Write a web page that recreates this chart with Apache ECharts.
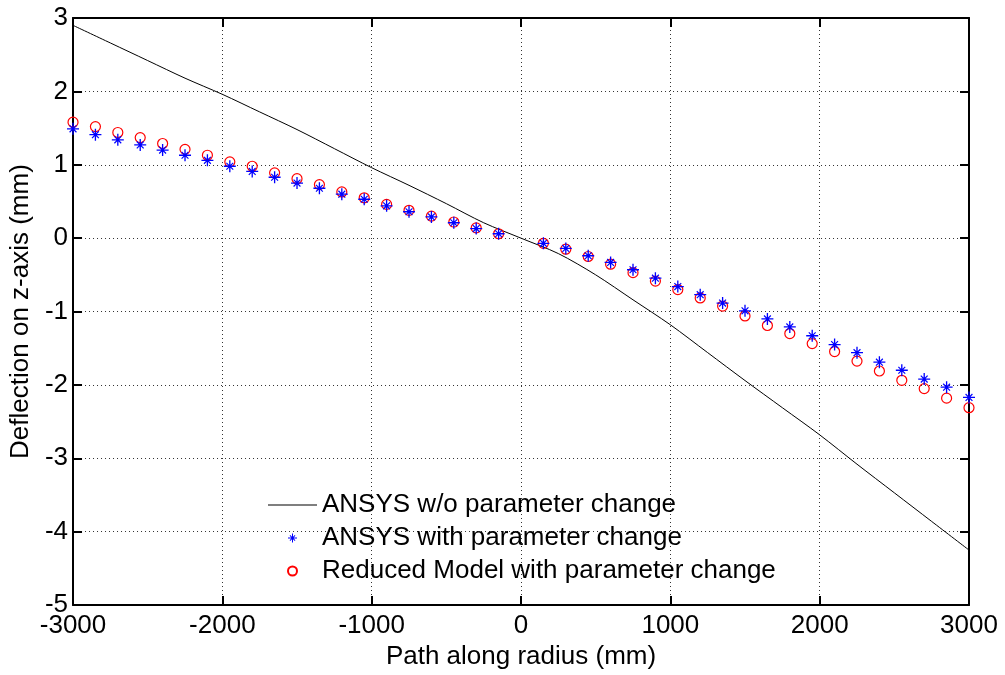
<!DOCTYPE html>
<html>
<head>
<meta charset="utf-8">
<script src="https://cdn.jsdelivr.net/npm/echarts@6/dist/echarts.min.js"></script>
<style>
html,body{margin:0;padding:0;background:#fff;}
#chart{width:1005px;height:675px;}
</style>
</head>
<body>
<div id="chart"></div>
<script>
// ---- data ----
var lineX = [-3000,-2750,-2500,-2250,-2000,-1750,-1500,-1250,-1000,-750,-500,-250,0,250,500,750,1000,1250,1500,1750,2000,2250,2500,2750,3000];
var lineY = [2.90,2.66,2.42,2.18,1.96,1.72,1.48,1.22,0.96,0.72,0.47,0.21,0,-0.21,-0.50,-0.84,-1.18,-1.56,-1.94,-2.31,-2.68,-3.08,-3.47,-3.86,-4.25];

var pointX = [-3000,-2850,-2700,-2550,-2400,-2250,-2100,-1950,-1800,-1650,-1500,-1350,-1200,-1050,-900,-750,-600,-450,-300,-150,
              150,300,450,600,750,900,1050,1200,1350,1500,1650,1800,1950,2100,2250,2400,2550,2700,2850,3000];
var ansysWith = [1.49,1.41,1.34,1.27,1.20,1.13,1.06,0.98,0.91,0.83,0.75,0.68,0.60,0.53,0.44,0.36,0.29,0.21,0.13,0.06,
                 -0.07,-0.14,-0.24,-0.33,-0.43,-0.545,-0.66,-0.77,-0.885,-0.99,-1.10,-1.21,-1.33,-1.45,-1.56,-1.69,-1.80,-1.92,-2.03,-2.17];
var reducedWith = [1.58,1.52,1.44,1.37,1.29,1.21,1.13,1.04,0.98,0.89,0.81,0.73,0.63,0.55,0.46,0.38,0.30,0.22,0.14,0.06,
                   -0.07,-0.15,-0.25,-0.355,-0.47,-0.585,-0.70,-0.815,-0.925,-1.06,-1.19,-1.30,-1.437,-1.545,-1.675,-1.81,-1.937,-2.05,-2.18,-2.31];

var seriesNames = ['ANSYS w/o parameter change','ANSYS with parameter change','Reduced Model with parameter change'];
var xTitle = 'Path along radius (mm)';
var yTitle = 'Deflection on z-axis (mm)';

function pairs(xs, ys){ return xs.map(function(x,i){ return [x, ys[i]]; }); }

var starPath = 'path://M8.9 0L11.1 0L11.1 20L8.9 20Z M0 8.9L20 8.9L20 11.1L0 11.1Z M3.6 5L5 3.6L16.4 15L15 16.4Z M5 16.4L3.6 15L15 3.6L16.4 5Z';
var lineIcon = 'path://M0 0L49 0L49 1.2L0 1.2Z';

var FONT = 'Liberation Sans, Arial, sans-serif';
var FS = 26;

var chart = echarts.init(document.getElementById('chart'), null, {renderer:'canvas'});

function plainNum(v){ return String(v); }

chart.setOption({
  animation: false,
  backgroundColor: '#fff',
  grid: {left:70, right:36, top:18, bottom:67, containLabel:false},
  legend: {
    orient: 'vertical',
    left: 268,
    top: 492,
    padding: 0,
    itemWidth: 49,
    itemHeight: 9,
    itemGap: 7,
    textStyle: {fontFamily: FONT, fontSize: FS, color:'#000'},
    data: [
      {name: seriesNames[0], icon: lineIcon},
      {name: seriesNames[1], icon: starPath},
      {name: seriesNames[2], icon: 'circle'}
    ]
  },
  xAxis: [{
    type: 'value', min:-3000, max:3000, interval:1000, position:'bottom',
    name: xTitle, nameLocation:'middle', nameGap: 34,
    nameTextStyle: {fontFamily:FONT, fontSize:FS, color:'#000'},
    axisLine: {show:true, onZero:false, lineStyle:{color:'#000', width:2}},
    axisTick: {show:true, inside:true, length:9, lineStyle:{color:'#000', width:2}},
    axisLabel: {show:true, margin:8, fontFamily:FONT, fontSize:FS, color:'#000', showMinLabel:true, showMaxLabel:true, formatter: plainNum},
    splitLine: {show:true, lineStyle:{color:'#333', width:1, type:[1,3]}}
  },{
    type: 'value', min:-3000, max:3000, interval:1000, position:'top',
    axisLine: {show:true, onZero:false, lineStyle:{color:'#000', width:2}},
    axisTick: {show:true, inside:true, length:9, lineStyle:{color:'#000', width:2}},
    axisLabel: {show:false},
    splitLine: {show:false}
  }],
  yAxis: [{
    type: 'value', min:-5, max:3, interval:1, position:'left',
    name: yTitle, nameLocation:'middle', nameGap: 34, nameRotate: 90,
    nameTextStyle: {fontFamily:FONT, fontSize:FS, color:'#000'},
    axisLine: {show:true, onZero:false, lineStyle:{color:'#000', width:2}},
    axisTick: {show:true, inside:true, length:9, lineStyle:{color:'#000', width:2}},
    axisLabel: {show:true, margin:5, fontFamily:FONT, fontSize:FS, color:'#000', showMinLabel:true, showMaxLabel:true, formatter: plainNum},
    splitLine: {show:true, lineStyle:{color:'#333', width:1, type:[1,3]}}
  },{
    type: 'value', min:-5, max:3, interval:1, position:'right',
    axisLine: {show:true, onZero:false, lineStyle:{color:'#000', width:2}},
    axisTick: {show:true, inside:true, length:9, lineStyle:{color:'#000', width:2}},
    axisLabel: {show:false},
    splitLine: {show:false}
  }],
  series: [
    {
      name: seriesNames[0], type:'line', data: pairs(lineX, lineY),
      symbol:'none', showSymbol:false, smooth:0.3,
      lineStyle:{color:'#000', width:1}, itemStyle:{color:'#000'}, z:2
    },
    {
      name: seriesNames[1], type:'scatter', data: pairs(pointX, ansysWith),
      symbol: starPath, symbolSize: 12,
      itemStyle:{color:'#0000ff', opacity:1}, z:4
    },
    {
      name: seriesNames[2], type:'scatter', data: pairs(pointX, reducedWith),
      symbol: 'circle', symbolSize: 10,
      itemStyle:{color:'rgba(255,255,255,0)', borderColor:'#ff0000', borderWidth:1.2, opacity:1}, z:3
    }
  ]
});
</script>
</body>
</html>
